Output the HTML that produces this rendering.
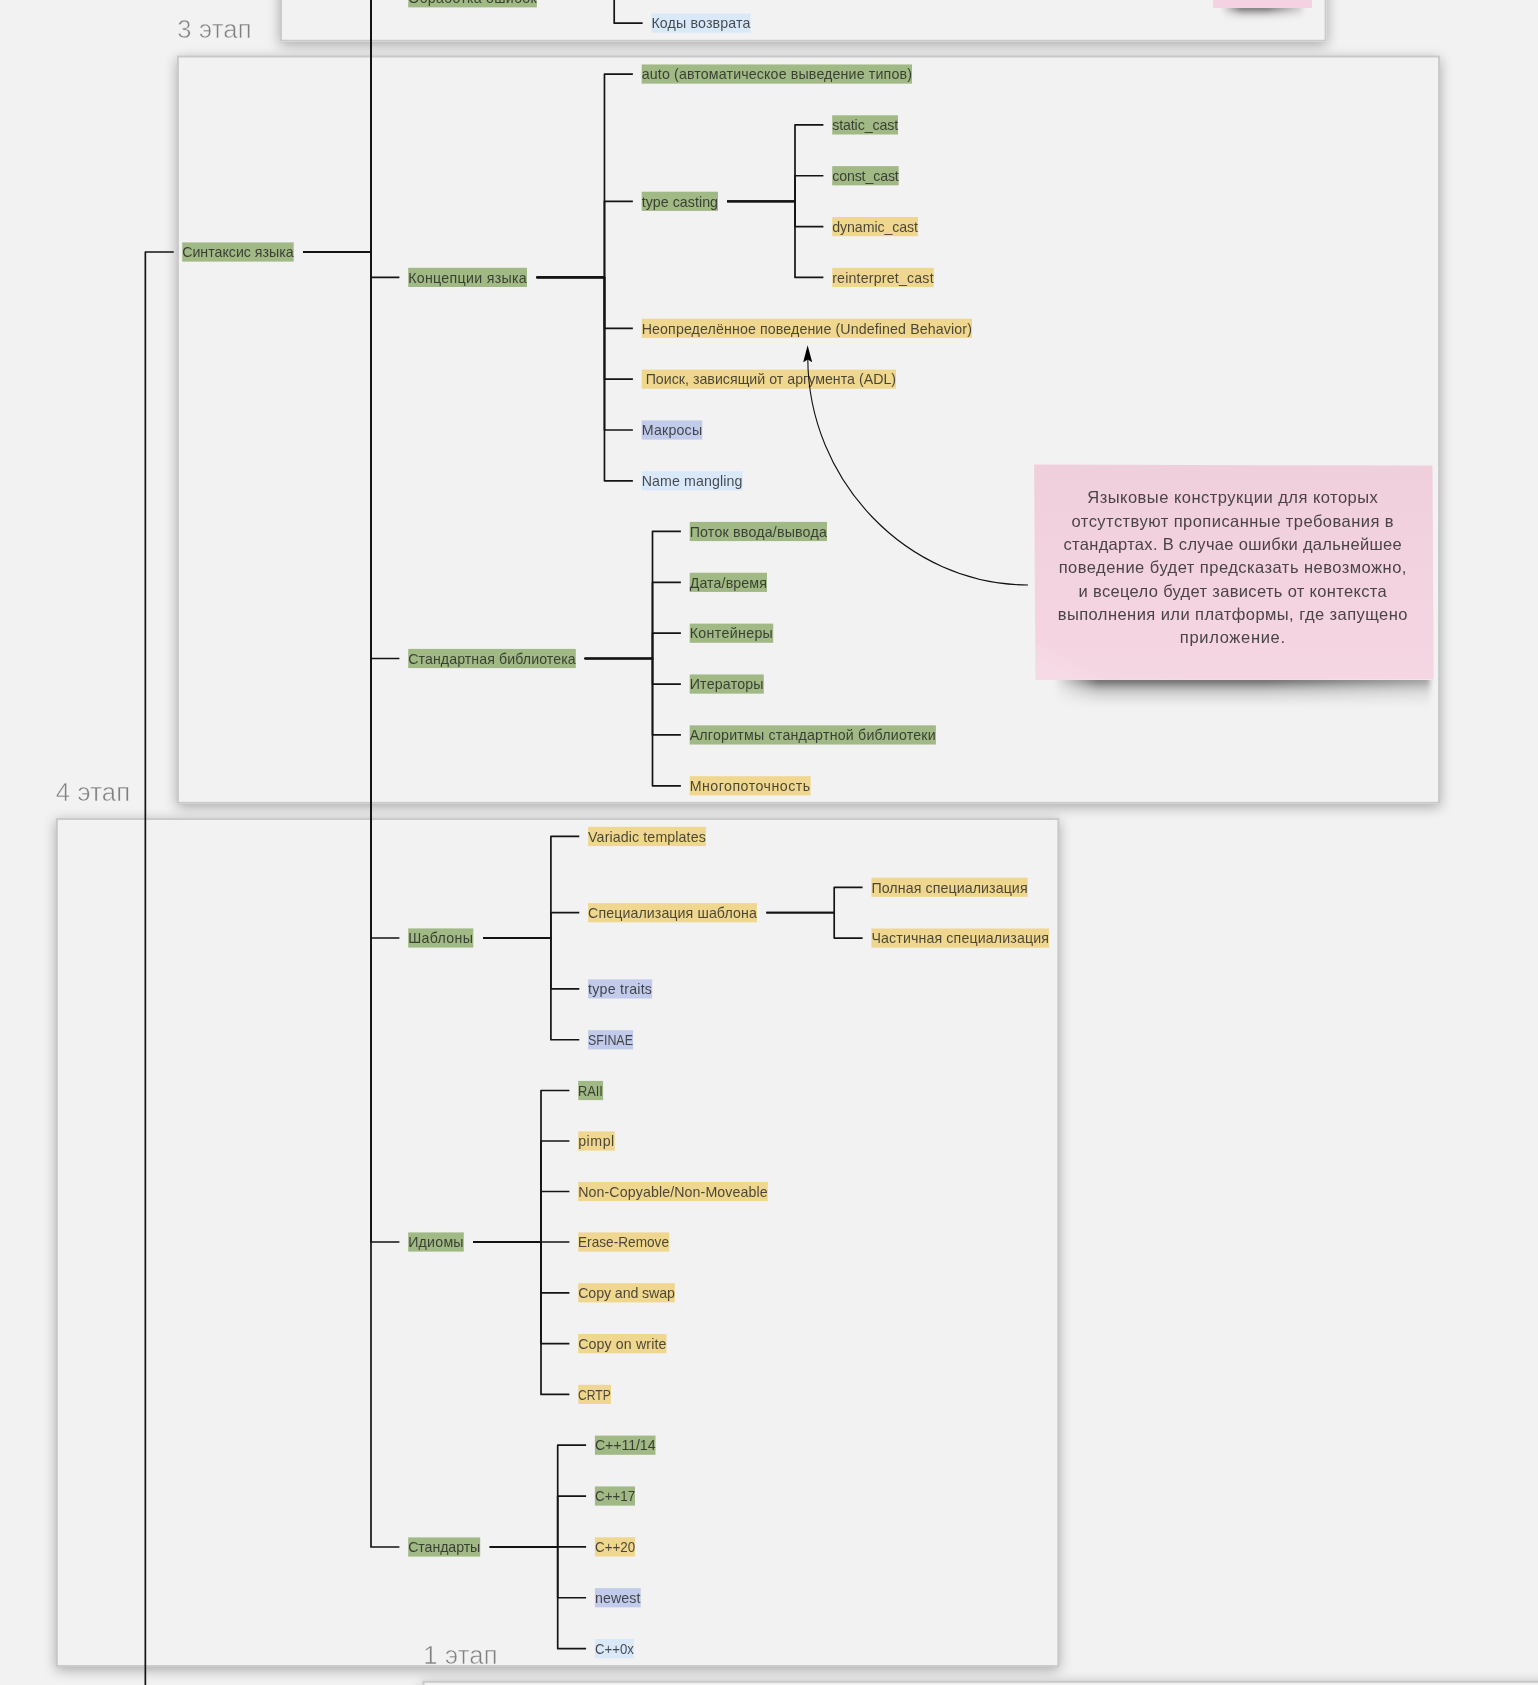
<!DOCTYPE html>
<html lang="ru"><head><meta charset="utf-8"><title>C++ roadmap</title>
<style>
html,body{margin:0;padding:0}
body{width:1538px;height:1685px;overflow:hidden;position:relative;background:#f2f2f2;font-family:"Liberation Sans",sans-serif}
.fr{position:absolute;background:#f2f2f2;box-shadow:0 3px 12px rgba(0,0,0,.3)}
.lb{position:absolute;font-size:25.6px;letter-spacing:.2px;line-height:30px;color:#808080;-webkit-text-stroke:.55px #f2f2f2;white-space:nowrap}
.n{position:absolute;height:19.2px;line-height:19.2px;font-size:14.2px;color:rgba(28,28,28,.78);white-space:pre;overflow:visible}
.n span{position:relative;top:0.9px}
.tx{position:absolute;left:0;top:0;width:1538px;height:1685px;will-change:transform}
svg{position:absolute;left:0;top:0}
.st{position:absolute;left:1034px;top:464px;width:400px;height:216px;background:linear-gradient(28deg,rgba(255,255,255,.12) 0,rgba(255,255,255,.07) 8.5%,rgba(255,255,255,0) 9%),linear-gradient(180deg,#f0cfdc 0%,#f4d3e1 60%,#f5d6e3 100%);clip-path:polygon(.1px .5px,398.5px 1.6px,399.7px 215.4px,1.4px 216px)}
.shc{position:absolute;left:1030px;top:679.7px;width:420px;height:60px;overflow:hidden}
.sh{position:absolute;left:24px;top:-4px;width:376px;height:32px;filter:blur(2.5px)}
.sh i{position:absolute;left:0;top:0;right:0;bottom:0;background:linear-gradient(180deg,rgba(0,0,0,.58) 0,rgba(0,0,0,.58) 4px,rgba(0,0,0,.36) 9px,rgba(0,0,0,.17) 15px,rgba(0,0,0,.06) 23px,rgba(0,0,0,0) 32px);-webkit-mask-image:linear-gradient(90deg,transparent 0,#000 44px,#000 210px,rgba(0,0,0,.6) 100%);mask-image:linear-gradient(90deg,transparent 0,#000 44px,#000 210px,rgba(0,0,0,.6) 100%)}
.sl{position:absolute;left:1033.3px;width:399px;text-align:center;font-size:16.5px;line-height:23px;color:#4a4348;white-space:pre}
</style></head><body>

<div class="fr" style="left:280.05px;top:-60.95px;width:1046.50px;height:102.60px"></div>
<div class="fr" style="left:177.00px;top:55.61px;width:1263.00px;height:748.14px"></div>
<div class="fr" style="left:55.95px;top:818.05px;width:1003.30px;height:848.90px"></div>
<div class="fr" style="left:422.65px;top:1680.90px;width:1278.30px;height:120.05px"></div>
<svg width="1538" height="1685" viewBox="0 0 1538 1685" fill="#f2f2f2" stroke="#c9c9c9" stroke-width="1.9"><rect x="281.00" y="-60.00" width="1044.60" height="100.70"/><rect x="177.95" y="56.56" width="1261.10" height="746.24"/><rect x="56.90" y="819.00" width="1001.40" height="847.00"/><rect x="423.60" y="1681.85" width="1276.40" height="118.15"/></svg>
<div class="shc" style="left:1200px;top:7.8px;width:130px;height:30px"><div class="sh" style="left:21px;top:-3px;width:82px;height:15px;filter:blur(2px)"><i style="background:linear-gradient(180deg,rgba(0,0,0,.55) 0,rgba(0,0,0,.55) 3px,rgba(0,0,0,.28) 6.5px,rgba(0,0,0,.08) 11px,rgba(0,0,0,0) 15px);-webkit-mask-image:linear-gradient(90deg,transparent 0,#000 20px,#000 45px,rgba(0,0,0,.2) 100%);mask-image:linear-gradient(90deg,transparent 0,#000 20px,#000 45px,rgba(0,0,0,.2) 100%)"></i></div></div>
<div style="position:absolute;left:1213px;top:-20px;width:99px;height:28px;background:#f4d2e1"></div>
<div class="tx"><div class="lb" style="left:177.2px;top:13.9px">3 этап</div>
<div class="lb" style="left:55.7px;top:777.2px">4 этап</div>
<div class="lb" style="left:423.3px;top:1639.7px">1 этап</div></div>
<svg width="1538" height="1685" viewBox="0 0 1538 1685" fill="none" stroke="#141414" stroke-width="1.7" stroke-linejoin="round" stroke-linecap="butt"><path d="M145.35 1700V252.00H173.75"/><path d="M303.10 252.00H371.00V-300.00H399.40"/><path d="M303.10 252.00H371.00V-200.00H399.40"/><path d="M303.10 252.00H371.00V-2.20H399.40"/><path d="M303.10 252.00H371.00V277.41H399.40"/><path d="M303.10 252.00H371.00V658.50H399.40"/><path d="M303.10 252.00H371.00V938.00H399.40"/><path d="M303.10 252.00H371.00V1242.00H399.40"/><path d="M303.10 252.00H371.00V1547.00H399.40"/><path d="M546.30 -2.20H614.20V-200.00H642.60"/><path d="M546.30 -2.20H614.20V-100.00H642.60"/><path d="M546.30 -2.20H614.20V23.20H642.60"/><path d="M536.57 277.41H604.47V74.05H632.87"/><path d="M536.57 277.41H604.47V201.30H632.87"/><path d="M536.57 277.41H604.47V328.30H632.87"/><path d="M536.57 277.41H604.47V379.15H632.87"/><path d="M536.57 277.41H604.47V430.00H632.87"/><path d="M536.57 277.41H604.47V480.85H632.87"/><path d="M727.10 201.30H795.00V124.90H823.40"/><path d="M727.10 201.30H795.00V175.75H823.40"/><path d="M727.10 201.30H795.00V226.60H823.40"/><path d="M727.10 201.30H795.00V277.45H823.40"/><path d="M584.60 658.50H652.50V531.47H680.90"/><path d="M584.60 658.50H652.50V582.34H680.90"/><path d="M584.60 658.50H652.50V633.20H680.90"/><path d="M584.60 658.50H652.50V684.07H680.90"/><path d="M584.60 658.50H652.50V734.93H680.90"/><path d="M584.60 658.50H652.50V785.80H680.90"/><path d="M483.00 938.00H550.90V836.47H579.30"/><path d="M483.00 938.00H550.90V912.70H579.30"/><path d="M483.00 938.00H550.90V988.93H579.30"/><path d="M483.00 938.00H550.90V1039.75H579.30"/><path d="M766.30 912.70H834.20V887.29H862.60"/><path d="M766.30 912.70H834.20V938.11H862.60"/><path d="M473.10 1242.00H541.00V1090.50H569.40"/><path d="M473.10 1242.00H541.00V1141.00H569.40"/><path d="M473.10 1242.00H541.00V1191.50H569.40"/><path d="M473.10 1242.00H541.00V1242.00H569.40"/><path d="M473.10 1242.00H541.00V1292.80H569.40"/><path d="M473.10 1242.00H541.00V1343.60H569.40"/><path d="M473.10 1242.00H541.00V1394.40H569.40"/><path d="M489.80 1547.00H557.70V1445.20H586.10"/><path d="M489.80 1547.00H557.70V1496.05H586.10"/><path d="M489.80 1547.00H557.70V1546.90H586.10"/><path d="M489.80 1547.00H557.70V1597.75H586.10"/><path d="M489.80 1547.00H557.70V1648.60H586.10"/></svg>
<svg width="1538" height="1685" viewBox="0 0 1538 1685"><rect x="408.20" y="-11.80" width="128.70" height="19.2" fill="#a1b985"/><rect x="651.40" y="13.60" width="99.20" height="19.2" fill="#d9e9fa"/><rect x="182.20" y="242.40" width="111.50" height="19.2" fill="#a1b985"/><rect x="408.20" y="267.81" width="118.80" height="19.2" fill="#a1b985"/><rect x="641.67" y="64.45" width="270.33" height="19.2" fill="#a1b985"/><rect x="641.67" y="191.70" width="76.33" height="19.2" fill="#a1b985"/><rect x="832.20" y="115.30" width="65.80" height="19.2" fill="#a1b985"/><rect x="832.20" y="166.15" width="66.50" height="19.2" fill="#a1b985"/><rect x="832.20" y="217.00" width="85.80" height="19.2" fill="#efd78f"/><rect x="832.20" y="267.85" width="101.60" height="19.2" fill="#efd78f"/><rect x="641.67" y="318.70" width="330.33" height="19.2" fill="#efd78f"/><rect x="641.67" y="369.55" width="254.33" height="19.2" fill="#efd78f"/><rect x="641.67" y="420.40" width="60.63" height="19.2" fill="#c2ccea"/><rect x="641.67" y="471.25" width="100.93" height="19.2" fill="#d9e9fa"/><rect x="408.20" y="648.90" width="167.60" height="19.2" fill="#a1b985"/><rect x="689.70" y="521.87" width="137.30" height="19.2" fill="#a1b985"/><rect x="689.70" y="572.74" width="77.30" height="19.2" fill="#a1b985"/><rect x="689.70" y="623.60" width="83.50" height="19.2" fill="#a1b985"/><rect x="689.70" y="674.47" width="74.10" height="19.2" fill="#a1b985"/><rect x="689.70" y="725.33" width="246.20" height="19.2" fill="#a1b985"/><rect x="689.70" y="776.20" width="120.90" height="19.2" fill="#efd78f"/><rect x="408.20" y="928.40" width="65.10" height="19.2" fill="#a1b985"/><rect x="588.10" y="826.87" width="117.80" height="19.2" fill="#efd78f"/><rect x="588.10" y="903.10" width="168.80" height="19.2" fill="#efd78f"/><rect x="871.40" y="877.69" width="156.30" height="19.2" fill="#efd78f"/><rect x="871.40" y="928.51" width="177.70" height="19.2" fill="#efd78f"/><rect x="588.10" y="979.33" width="64.10" height="19.2" fill="#c2ccea"/><rect x="588.10" y="1030.15" width="45.00" height="19.2" fill="#c2ccea"/><rect x="408.20" y="1232.40" width="55.60" height="19.2" fill="#a1b985"/><rect x="578.20" y="1080.90" width="24.90" height="19.2" fill="#a1b985"/><rect x="578.20" y="1131.40" width="36.60" height="19.2" fill="#efd78f"/><rect x="578.20" y="1181.90" width="189.60" height="19.2" fill="#efd78f"/><rect x="578.20" y="1232.40" width="91.00" height="19.2" fill="#efd78f"/><rect x="578.20" y="1283.20" width="96.70" height="19.2" fill="#efd78f"/><rect x="578.20" y="1334.00" width="88.30" height="19.2" fill="#efd78f"/><rect x="578.20" y="1384.80" width="32.80" height="19.2" fill="#efd78f"/><rect x="408.20" y="1537.40" width="72.00" height="19.2" fill="#a1b985"/><rect x="594.90" y="1435.60" width="60.60" height="19.2" fill="#a1b985"/><rect x="594.90" y="1486.45" width="40.10" height="19.2" fill="#a1b985"/><rect x="594.90" y="1537.30" width="40.10" height="19.2" fill="#efd78f"/><rect x="594.90" y="1588.15" width="45.80" height="19.2" fill="#c2ccea"/><rect x="594.90" y="1639.00" width="39.00" height="19.2" fill="#d9e9fa"/></svg>
<div class="tx">
<div class="n" style="left:408.2px;top:-11.80px;width:128.7px;letter-spacing:0.236px"><span>Обработка ошибок</span></div>
<div class="n" style="left:651.4px;top:13.60px;width:99.2px;letter-spacing:0.161px"><span>Коды возврата</span></div>
<div class="n" style="left:182.2px;top:242.40px;width:111.5px;letter-spacing:0.003px"><span>Синтаксис языка</span></div>
<div class="n" style="left:408.2px;top:267.81px;width:118.8px;letter-spacing:0.303px"><span>Концепции языка</span></div>
<div class="n" style="left:641.7px;top:64.45px;width:270.3px;letter-spacing:0.156px"><span>auto (автоматическое выведение типов)</span></div>
<div class="n" style="left:641.7px;top:191.70px;width:76.3px;letter-spacing:0.051px"><span>type casting</span></div>
<div class="n" style="left:832.2px;top:115.30px;width:65.8px;letter-spacing:-0.112px"><span>static_cast</span></div>
<div class="n" style="left:832.2px;top:166.15px;width:66.5px;letter-spacing:-0.133px"><span>const_cast</span></div>
<div class="n" style="left:832.2px;top:217.00px;width:85.8px;letter-spacing:-0.079px"><span>dynamic_cast</span></div>
<div class="n" style="left:832.2px;top:267.85px;width:101.6px;letter-spacing:0.189px"><span>reinterpret_cast</span></div>
<div class="n" style="left:641.7px;top:318.70px;width:330.3px;letter-spacing:0.123px"><span>Неопределённое поведение (Undefined Behavior)</span></div>
<div class="n" style="left:641.7px;top:369.55px;width:254.3px;letter-spacing:0.014px"><span> Поиск, зависящий от аргумента (ADL)</span></div>
<div class="n" style="left:641.7px;top:420.40px;width:60.6px;letter-spacing:0.211px"><span>Макросы</span></div>
<div class="n" style="left:641.7px;top:471.25px;width:100.9px;letter-spacing:0.120px"><span>Name mangling</span></div>
<div class="n" style="left:408.2px;top:648.90px;width:167.6px;letter-spacing:0.078px"><span>Стандартная библиотека</span></div>
<div class="n" style="left:689.7px;top:521.87px;width:137.3px;letter-spacing:0.204px"><span>Поток ввода/вывода</span></div>
<div class="n" style="left:689.7px;top:572.74px;width:77.3px;letter-spacing:0.117px"><span>Дата/время</span></div>
<div class="n" style="left:689.7px;top:623.60px;width:83.5px;letter-spacing:0.353px"><span>Контейнеры</span></div>
<div class="n" style="left:689.7px;top:674.47px;width:74.1px;letter-spacing:0.209px"><span>Итераторы</span></div>
<div class="n" style="left:689.7px;top:725.33px;width:246.2px;letter-spacing:0.213px"><span>Алгоритмы стандартной библиотеки</span></div>
<div class="n" style="left:689.7px;top:776.20px;width:120.9px;letter-spacing:0.488px"><span>Многопоточность</span></div>
<div class="n" style="left:408.2px;top:928.40px;width:65.1px;letter-spacing:0.336px"><span>Шаблоны</span></div>
<div class="n" style="left:588.1px;top:826.87px;width:117.8px;letter-spacing:0.119px"><span>Variadic templates</span></div>
<div class="n" style="left:588.1px;top:903.10px;width:168.8px;letter-spacing:0.092px"><span>Специализация шаблона</span></div>
<div class="n" style="left:871.4px;top:877.69px;width:156.3px;letter-spacing:0.097px"><span>Полная специализация</span></div>
<div class="n" style="left:871.4px;top:928.51px;width:177.7px;letter-spacing:0.137px"><span>Частичная специализация</span></div>
<div class="n" style="left:588.1px;top:979.33px;width:64.1px;letter-spacing:0.235px"><span>type traits</span></div>
<div class="n" style="left:588.1px;top:1030.15px;width:45.0px"><span style="display:inline-block;transform-origin:0 50%;transform:scaleX(0.8780)">SFINAE</span></div>
<div class="n" style="left:408.2px;top:1232.40px;width:55.6px;letter-spacing:0.225px"><span>Идиомы</span></div>
<div class="n" style="left:578.2px;top:1080.90px;width:24.9px"><span style="display:inline-block;transform-origin:0 50%;transform:scaleX(0.9024)">RAII</span></div>
<div class="n" style="left:578.2px;top:1131.40px;width:36.6px;letter-spacing:0.539px"><span>pimpl</span></div>
<div class="n" style="left:578.2px;top:1181.90px;width:189.6px;letter-spacing:0.108px"><span>Non-Copyable/Non-Moveable</span></div>
<div class="n" style="left:578.2px;top:1232.40px;width:91.0px"><span style="display:inline-block;transform-origin:0 50%;transform:scaleX(0.9617)">Erase-Remove</span></div>
<div class="n" style="left:578.2px;top:1283.20px;width:96.7px;letter-spacing:-0.084px"><span>Copy and swap</span></div>
<div class="n" style="left:578.2px;top:1334.00px;width:88.3px;letter-spacing:0.119px"><span>Copy on write</span></div>
<div class="n" style="left:578.2px;top:1384.80px;width:32.8px"><span style="display:inline-block;transform-origin:0 50%;transform:scaleX(0.8547)">CRTP</span></div>
<div class="n" style="left:408.2px;top:1537.40px;width:72.0px;letter-spacing:-0.085px"><span>Стандарты</span></div>
<div class="n" style="left:594.9px;top:1435.60px;width:60.6px;letter-spacing:-0.085px"><span>C++11/14</span></div>
<div class="n" style="left:594.9px;top:1486.45px;width:40.1px"><span style="display:inline-block;transform-origin:0 50%;transform:scaleX(0.9411)">C++17</span></div>
<div class="n" style="left:594.9px;top:1537.30px;width:40.1px"><span style="display:inline-block;transform-origin:0 50%;transform:scaleX(0.9411)">C++20</span></div>
<div class="n" style="left:594.9px;top:1588.15px;width:45.8px;letter-spacing:0.141px"><span>newest</span></div>
<div class="n" style="left:594.9px;top:1639.00px;width:39.0px"><span style="display:inline-block;transform-origin:0 50%;transform:scaleX(0.9327)">C++0x</span></div>
</div>
<svg width="1538" height="1685" viewBox="0 0 1538 1685" fill="none"><path d="M1028 585C906.8 585 807.8 480 807.8 358" stroke="#111" stroke-width="1.1"/><path d="M807.6 345.2L812.2 362.2L807.8 359.6L803.2 362.2Z" fill="#000" stroke="none"/></svg>
<div class="shc"><div class="sh"><i></i></div></div><div class="st"></div><div class="tx">
<div class="sl" style="top:486.20px;letter-spacing:0.486px">Языковые конструкции для которых</div>
<div class="sl" style="top:509.53px;letter-spacing:0.455px">отсутствуют прописанные требования в</div>
<div class="sl" style="top:532.86px;letter-spacing:0.303px">стандартах. В случае ошибки дальнейшее</div>
<div class="sl" style="top:556.19px;letter-spacing:0.473px">поведение будет предсказать невозможно,</div>
<div class="sl" style="top:579.52px;letter-spacing:0.332px">и всецело будет зависеть от контекста</div>
<div class="sl" style="top:602.85px;letter-spacing:0.440px">выполнения или платформы, где запущено</div>
<div class="sl" style="top:626.18px;letter-spacing:0.678px">приложение.</div>
</div></body></html>
